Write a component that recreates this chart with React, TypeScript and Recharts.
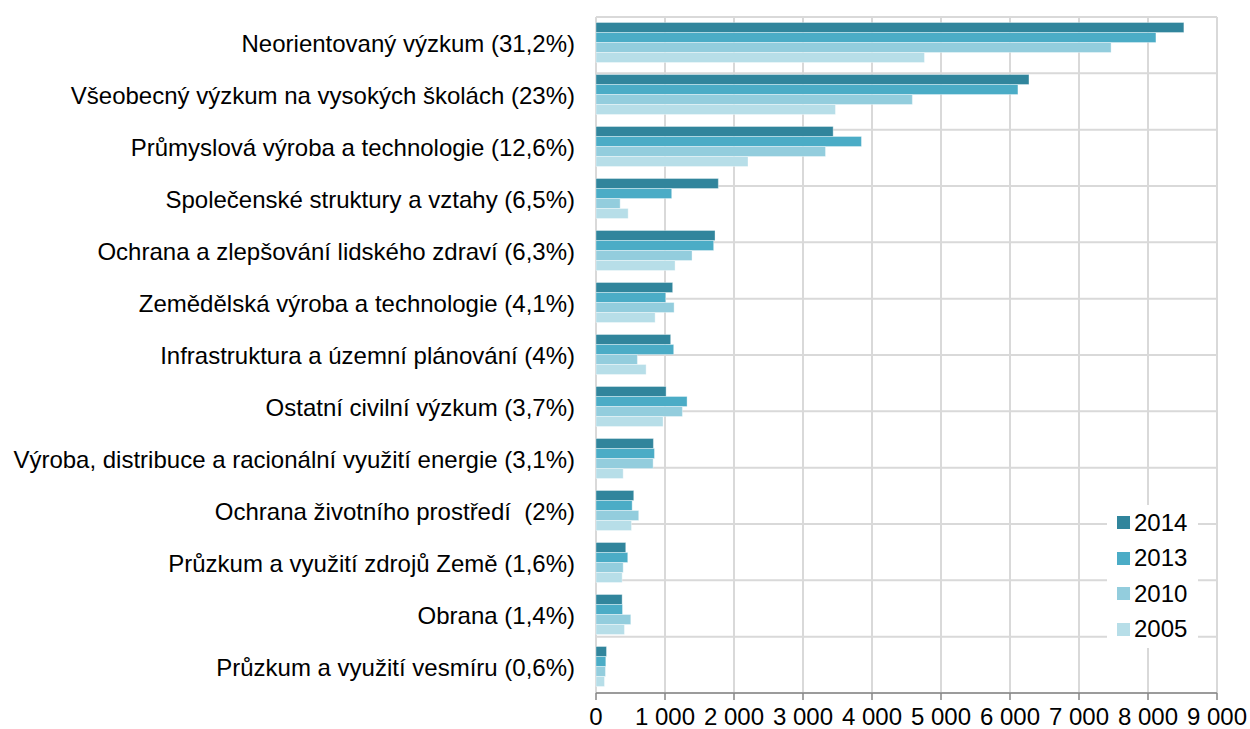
import React from 'react';
import {
    BarChart,
    Bar,
    XAxis,
    YAxis,
    CartesianGrid,
    Legend
} from 'recharts';

const categories = [
    'Neorientovaný výzkum (31,2%)',
    'Všeobecný výzkum na vysokých školách (23%)',
    'Průmyslová výroba a technologie (12,6%)',
    'Společenské struktury a vztahy (6,5%)',
    'Ochrana a zlepšování lidského zdraví (6,3%)',
    'Zemědělská výroba a technologie (4,1%)',
    'Infrastruktura a územní plánování (4%)',
    'Ostatní civilní výzkum (3,7%)',
    'Výroba, distribuce a racionální využití energie (3,1%)',
    'Ochrana životního prostředí\u00a0 (2%)',
    'Průzkum a využití zdrojů Země (1,6%)',
    'Obrana (1,4%)',
    'Průzkum a využití vesmíru (0,6%)'
];

const values2014 = [8520, 6275, 3437, 1773, 1725, 1111, 1082, 1016, 832, 547, 431, 379, 152];
const values2013 = [8115, 6115, 3847, 1097, 1705, 1010, 1126, 1320, 847, 524, 460, 384, 142];
const values2010 = [7465, 4585, 3326, 350, 1392, 1132, 600, 1252, 828, 619, 394, 504, 137];
const values2005 = [4760, 3470, 2203, 466, 1146, 857, 726, 972, 394, 514, 379, 412, 123];

const xTicks = [0, 1000, 2000, 3000, 4000, 5000, 6000, 7000, 8000, 9000];
const bandTicks = [0, 1, 2, 3, 4, 5, 6, 7, 8, 9, 10, 11, 12, 13];

const series = [
    { key: 'y2014', label: '2014', color: '#31859c' },
    { key: 'y2013', label: '2013', color: '#4bacc6' },
    { key: 'y2010', label: '2010', color: '#93cddd' },
    { key: 'y2005', label: '2005', color: '#b7dee8' }
];

const data = categories.map((name, i) => ({
    name,
    y2014: values2014[i],
    y2013: values2013[i],
    y2010: values2010[i],
    y2005: values2005[i]
}));

const font = '"Liberation Sans", Arial, sans-serif';
const axisColor = '#868686';
const gridColor = '#d9d9d9';

const formatThousands = (v: number) => String(v).replace(/\B(?=(\d{3})+(?!\d))/g, ' ');

const LegendBox = () => (
    <div style={{ background: '#fff', width: 91, height: 143, boxSizing: 'border-box' }}>
        {series.map(s => (
            <div key={s.key} style={{ display: 'flex', alignItems: 'center', height: 35.5, paddingLeft: 10 }}>
                <span style={{ width: 13, height: 13, background: s.color, display: 'inline-block', marginRight: 4 }} />
                <span style={{ fontFamily: font, fontSize: 24, color: '#000', lineHeight: '24px' }}>{s.label}</span>
            </div>
        ))}
    </div>
);

export default function App() {
    return (
        <div style={{ position: 'absolute', left: 0, top: 0, width: 1250, height: 729 }}>
            <BarChart
                width={1250}
                height={729}
                data={data}
                layout="vertical"
                margin={{ top: 17, right: 33, bottom: 0, left: 0 }}
                barCategoryGap={5.5}
                barGap={0}
            >
                <CartesianGrid
                    yAxisId="grid"
                    stroke={gridColor}
                    strokeWidth={2}
                />
                <XAxis
                    type="number"
                    domain={[0, 9000]}
                    ticks={xTicks}
                    tickFormatter={formatThousands}
                    stroke={axisColor}
                    strokeWidth={1.5}
                    tickSize={7}
                    tickMargin={8}
                    height={36}
                    interval={0}
                    tick={{ fill: '#000', fontSize: 24, fontFamily: font }}
                />
                <YAxis
                    yAxisId="grid"
                    type="number"
                    domain={[0, 13]}
                    ticks={bandTicks}
                    interval={0}
                    width={0}
                    tickFormatter={() => ''}
                    tickSize={7}
                    stroke={axisColor}
                    strokeWidth={1.5}
                    allowDataOverflow
                />
                <YAxis
                    yAxisId="cat"
                    type="category"
                    dataKey="name"
                    width={596}
                    axisLine={false}
                    tickLine={false}
                    tickSize={6}
                    tickMargin={15}
                    interval={0}
                    tick={{ fill: '#000', fontSize: 24, fontFamily: font }}
                />
                {series.map(s => (
                    <Bar
                        key={s.key}
                        yAxisId="cat"
                        dataKey={s.key}
                        name={s.label}
                        fill={s.color}
                        stroke="#ffffff"
                        strokeOpacity={0.35}
                        strokeWidth={1}
                        isAnimationActive={false}
                    />
                ))}
                <Legend
                    layout="vertical"
                    align="center"
                    verticalAlign="middle"
                    content={<LegendBox />}
                    wrapperStyle={{ left: 1107, top: 505, width: 91, height: 143 }}
                />
            </BarChart>
        </div>
    );
}
